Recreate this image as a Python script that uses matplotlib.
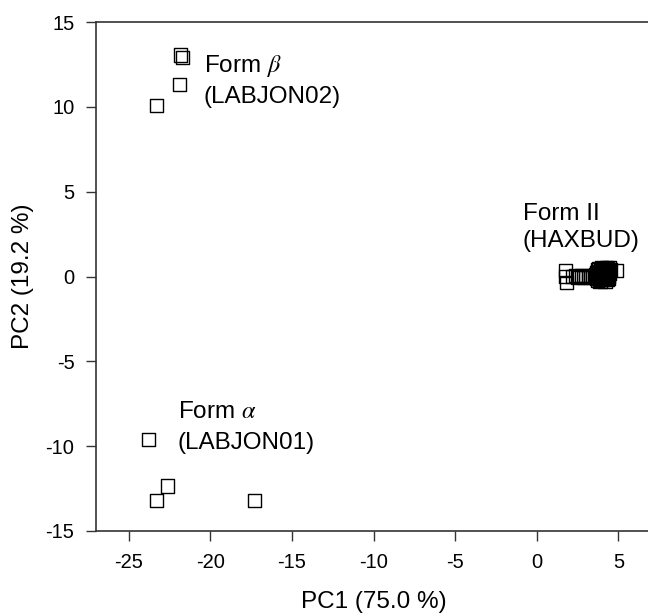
import matplotlib
matplotlib.use("Agg")
import matplotlib.pyplot as plt

plt.rcParams['font.family'] = ['Liberation Sans', 'DejaVu Sans']
plt.rcParams['mathtext.fontset'] = 'stix'
plt.rcParams['axes.unicode_minus'] = False

# Form beta (LABJON02)
beta_x = [-21.8, -21.7, -21.9, -23.3]
beta_y = [13.05, 12.9, 11.3, 10.1]
# Form alpha (LABJON01)
alpha_x = [-23.8, -22.6, -23.3, -17.3]
alpha_y = [-9.6, -12.35, -13.2, -13.2]
# Form II (HAXBUD)
f2_x = [1.75, 1.75, 1.8,
        2.2, 2.35, 2.5, 2.6, 2.75, 2.9, 3.0, 3.15, 3.3, 3.45,
        3.6, 3.65, 3.7, 3.72, 3.78, 3.8, 3.85, 3.88, 3.9, 3.95,
        3.98, 4.0, 4.02, 4.05, 4.08, 4.1, 4.12, 4.15, 4.18, 4.2,
        4.22, 4.25, 4.28, 4.3, 4.32, 4.35, 4.38, 4.4, 4.42, 4.45,
        4.48, 4.5, 3.68, 3.75, 3.82, 3.92, 4.03, 4.13, 4.27, 4.37,
        4.9]
f2_y = [0.35, 0.0, -0.35,
        0.0, 0.05, -0.05, 0.0, 0.05, -0.05, 0.0, 0.05, -0.05, 0.0,
        0.1, -0.1, 0.3, -0.25, 0.0, 0.45, 0.15, -0.3, 0.35, -0.05,
        0.5, 0.2, -0.2, 0.4, 0.05, -0.12, 0.48, 0.25, -0.28, 0.1,
        0.38, -0.05, 0.5, 0.18, -0.2, 0.45, 0.0, 0.3, -0.1, 0.5,
        0.2, 0.4, 0.22, 0.38, -0.18, 0.08, 0.3, -0.02, 0.12, 0.35,
        0.35]

xticks = [-25, -20, -15, -10, -5, 0, 5]
yticks = [-15, -10, -5, 0, 5, 10, 15]

fig = plt.figure(figsize=(6.48, 6.13), dpi=100)
ax = fig.add_axes([96/648, 82/613, (651-96)/648, (531-22)/613])

mk = dict(marker='s', s=90, facecolors='none', edgecolors='black', linewidths=1.0, zorder=3)
ax.scatter(beta_x, beta_y, **mk)
ax.scatter(alpha_x, alpha_y, **mk)
ax.scatter(f2_x, f2_y, **mk)

ax.set_xlim(-27, 7)
ax.set_ylim(-15, 15)
ax.set_xticks(xticks)
ax.set_yticks(yticks)
ax.tick_params(direction='out', length=7.5, width=1, labelsize=14.5, color='#333333', pad=8)
for s in ['left', 'bottom', 'top']:
    ax.spines[s].set_linewidth(1.2)
    ax.spines[s].set_color('#333333')
ax.spines['right'].set_visible(False)

ax.set_xlabel('PC1 (75.0 %)', fontsize=17.5, labelpad=14)
ax.set_ylabel('PC2 (19.2 %)', fontsize=17.5, labelpad=8)

tk = dict(fontsize=17.5, va='center', ha='left')
ax.text(-20.4, 12.4, r'Form $\beta$', **tk)
ax.text(-20.4, 10.6, '(LABJON02)', **tk)
ax.text(-0.86, 3.7, 'Form II', **tk)
ax.text(-0.86, 2.1, '(HAXBUD)', **tk)
ax.text(-22.0, -8.0, r'Form $\alpha$', **tk)
ax.text(-22.0, -9.8, '(LABJON01)', **tk)

fig.savefig('out.png', dpi=100)
